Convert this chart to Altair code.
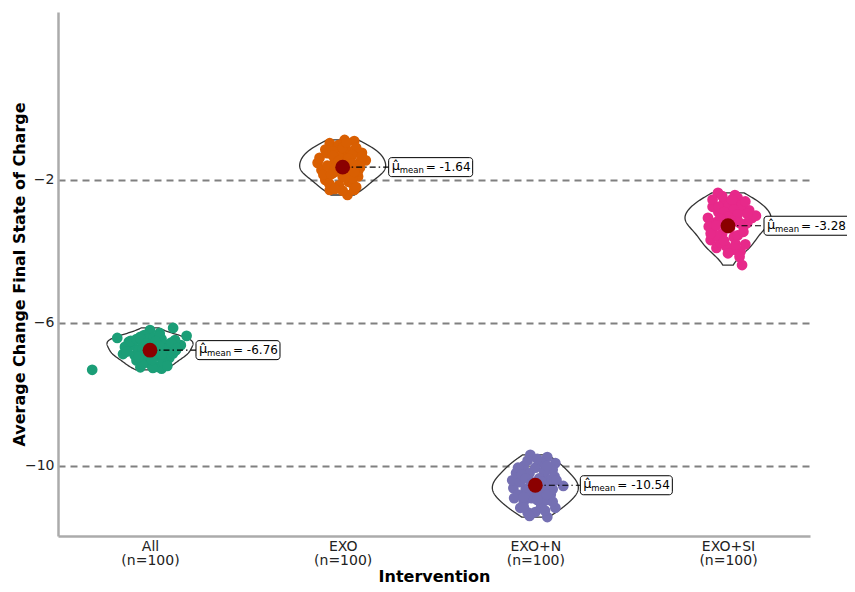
import altair as alt
import numpy as np
import pandas as pd

# ---------------- data ----------------
groups = ["All", "EXO", "EXO+N", "EXO+SI"]
counts = [100, 100, 100, 100]
means = [-6.76, -1.64, -10.54, -3.28]
colors = ["#1B9E77", "#D95F02", "#7570B3", "#E7298A"]

# jitter offsets (in category units) and values of the visible points
all_dx = [-0.30, -0.17, -0.14, 0.12, 0.19, 0.16, 0.05, -0.05, -0.09, 0.08,
          -0.03, 0.04, 0.00, 0.10, -0.08, -0.11, 0.03, 0.13, 0.09, 0.06,
          -0.05, 0.00, -0.03, 0.135, -0.06, -0.13, 0.05, 0.015, 0.07, -0.02,
          -0.10, -0.07, -0.04, -0.01, 0.02, 0.06, 0.11, 0.14, -0.12, -0.02,
          0.03, 0.07, -0.07, 0.12, 0.01, -0.04, 0.09, 0.05]
all_y = [-7.31, -6.42, -6.87, -6.14, -6.36, -6.62, -6.28, -6.39, -6.62, -6.81,
         -7.03, -7.23, -7.15, -6.98, -6.90, -6.53, -6.48, -6.48, -6.62, -7.28,
         -7.24, -6.20, -6.34, -6.76, -6.76, -6.67, -6.95, -7.26, -6.70, -6.60,
         -6.50, -6.45, -6.55, -6.45, -6.40, -6.45, -6.55, -6.70, -6.80, -6.90,
         -6.85, -7.10, -7.05, -6.85, -7.00, -7.15, -7.20, -6.35]

exo_dx = [-0.067, 0.01, 0.06, -0.03, -0.13, -0.11, -0.12, 0.10, 0.12, -0.067,
          0.025, 0.06, 0.00, 0.04, -0.05, 0.08, -0.08, 0.03, -0.02, 0.07,
          -0.09, 0.09, -0.04, 0.02, 0.05, -0.06, 0.00, -0.02, 0.04, 0.07,
          -0.09, -0.05, 0.00, 0.05, 0.09, -0.10, -0.03, 0.03, 0.08, -0.07,
          0.00, 0.05, -0.04, 0.02, 0.10, -0.08]
exo_y = [-0.97, -0.88, -0.91, -1.10, -1.52, -1.72, -1.38, -1.24, -1.45, -2.28,
         -2.42, -2.28, -1.30, -1.60, -1.80, -1.90, -1.25, -2.05, -2.15, -1.10,
         -2.00, -1.65, -1.45, -1.15, -2.10, -1.62, -1.90, -1.02, -1.35, -2.20,
         -1.15, -1.20, -1.10, -1.30, -1.50, -1.85, -1.75, -1.80, -1.75, -2.10,
         -2.30, -1.95, -2.25, -0.95, -1.35, -1.60]

exon_dx = [-0.026, 0.062, 0.104, 0.09, 0.145, -0.114, -0.12, -0.078, 0.00, 0.062,
           0.104, -0.04, 0.03, -0.06, 0.05, -0.09, 0.08, -0.03, 0.02, -0.06,
           0.04, -0.10, 0.07, -0.02, 0.00, -0.05, 0.03, 0.09, -0.08, 0.045,
           -0.09, -0.04, 0.01, 0.06, 0.10, -0.11, -0.06, 0.05, 0.09, -0.02,
           0.02, -0.07, 0.06, -0.03, 0.11, 0.00]
exon_y = [-9.69, -9.75, -9.92, -10.11, -10.56, -10.62, -10.40, -11.17, -11.29, -11.43,
          -11.17, -11.30, -9.90, -10.00, -10.30, -10.80, -10.80, -10.20, -10.70, -11.00,
          -11.00, -10.20, -10.50, -10.45, -10.05, -10.65, -11.15, -11.00, -10.45, -10.15,
          -10.05, -9.85, -9.80, -10.00, -10.30, -10.90, -11.15, -11.25, -10.65, -10.90,
          -10.35, -10.25, -10.95, -11.40, -10.40, -10.75]

exosi_dx = [-0.052, 0.036, 0.05, -0.02, 0.125, 0.145, -0.104, -0.083, -0.09, 0.073,
            0.065, 0.09, -0.06, 0.00, 0.06, -0.05, 0.08, -0.03, 0.03, 0.10,
            -0.07, 0.02, -0.01, 0.05, 0.04, -0.04, 0.11, 0.00, -0.08, 0.03,
            -0.08, -0.03, 0.02, 0.07, 0.10, -0.10, -0.05, 0.05, 0.08, -0.06,
            -0.02, 0.04, 0.06, -0.09, 0.00, 0.09]
exosi_y = [-2.36, -2.42, -2.50, -2.60, -3.06, -3.00, -3.06, -3.40, -3.68, -4.38,
           -4.00, -3.80, -3.90, -2.75, -2.80, -2.90, -3.30, -3.50, -3.60, -3.20,
           -3.20, -3.00, -3.85, -3.55, -2.65, -3.75, -2.85, -3.30, -2.75, -3.95,
           -2.55, -2.45, -2.55, -2.70, -2.95, -3.30, -3.15, -3.15, -3.45, -3.55,
           -3.70, -3.80, -4.15, -3.50, -4.05, -2.60]

# points hidden in the dense middle of each cloud (under the mean marker)
core_dx = [-0.05, 0.03, -0.02, 0.05, 0.00, -0.04, 0.02, 0.06, -0.06, 0.01]
all_core = [-6.43, -6.51, -6.58, -6.65, -6.71, -6.76, -6.82, -6.88, -6.95, -7.03]
exo_core = [-1.32, -1.40, -1.47, -1.54, -1.60, -1.65, -1.71, -1.77, -1.84, -1.92]
exon_core = [-10.35, -10.43, -10.50, -10.57, -10.63, -10.68, -10.74, -10.80, -10.87, -10.95]
exosi_core = [-2.75, -2.83, -2.90, -2.97, -3.03, -3.08, -3.14, -3.20, -3.27, -3.35]

point_dx = [all_dx + core_dx, exo_dx + core_dx, exon_dx + core_dx, exosi_dx + core_dx]
point_y = [all_y + all_core, exo_y + exo_core, exon_y + exon_core, exosi_y + exosi_core]

# ---------------- layout constants ----------------
W, H = 752, 524
XDOM = [0.5225, 4.4256]
YDOM = [-11.96, 2.70]
PX = (XDOM[1] - XDOM[0]) / W      # category units per pixel
PY = (YDOM[1] - YDOM[0]) / H      # value units per pixel
HALF = 43 * PX                    # violin half width
BOX_GAP = [46, 46, 45, 36]        # px from mean to label box
BOX_W = [84, 84, 92, 92]          # label box widths (px)
BOX_H = 19

rows = []
for i, g in enumerate(groups):
    for dx, y in zip(point_dx[i], point_y[i]):
        rows.append({"group": g, "cat": i + 1, "x": i + 1 + dx, "y": y})
pts = pd.DataFrame(rows)

lab = pd.DataFrame({"group": groups, "cat": [i + 1 for i in range(4)],
                    "mean": means,
                    "txt": [f"= {m:.2f}" for m in means]})
lab["bx"] = lab["cat"] + pd.Series(BOX_GAP) * PX
lab["bx2"] = lab["bx"] + pd.Series(BOX_W) * PX
lab["by"] = lab["mean"] + BOX_H / 2 * PY
lab["by2"] = lab["mean"] - BOX_H / 2 * PY

arr = "[" + ",".join(f"'{g}'" for g in groups) + "]"
narr = "[" + ",".join(f"'{n}'" for n in counts) + "]"
label_expr = f"[{arr}[datum.value-1], '(n=' + {narr}[datum.value-1] + ')']"

FONT = "DejaVu Sans"
xaxis = alt.Axis(values=[1, 2, 3, 4], labelExpr=label_expr, title="Intervention",
                 grid=False, ticks=False, domainColor="#ababab", domainWidth=2.5,
                 labelFontSize=14, labelColor="#222222", labelPadding=3,
                 labelLineHeight=14.5, titleFontSize=16, titleFontWeight="bold",
                 titleY=40, titleBaseline="middle",
                 titleColor="#000000", labelFont=FONT, titleFont=FONT)
yaxis = alt.Axis(values=[-2, -6, -10], title="Average Change Final State of Charge",
                 grid=True, gridDash=[7, 5], gridColor="#808080", gridWidth=1.8,
                 ticks=False, domainColor="#ababab", domainWidth=2.5,
                 labelFontSize=14, labelColor="#222222", labelPadding=4,
                 titleFontSize=16, titleFontWeight="bold",
                 titleX=-39, titleY=H / 2, titleBaseline="middle",
                 titleColor="#000000", labelFont=FONT, titleFont=FONT)
xs = alt.Scale(domain=XDOM, nice=False, zero=False)
ys = alt.Scale(domain=YDOM, nice=False, zero=False)
cscale = alt.Scale(domain=groups, range=colors)


def scott_bw(v):
    v = np.asarray(v)
    return 1.06 * v.std(ddof=1) * len(v) ** -0.2


def violin_layer(i):
    lo, hi = min(point_y[i]), max(point_y[i])
    return alt.Chart(pts).transform_filter(
        alt.datum.cat == i + 1
    ).transform_density(
        "y", groupby=["cat"], extent=[lo, hi], steps=150,
        bandwidth=float(scott_bw(point_y[i])), as_=["yv", "dens"]
    ).transform_joinaggregate(
        dmax="max(dens)", groupby=["cat"]
    ).transform_calculate(
        xl=f"datum.cat - datum.dens / datum.dmax * {HALF}",
        xr=f"datum.cat + datum.dens / datum.dmax * {HALF}",
    ).mark_area(orient="horizontal", fillOpacity=0, stroke="#333333",
                strokeWidth=1.3).encode(
        y=alt.Y("yv:Q", scale=ys, axis=yaxis),
        x=alt.X("xl:Q", scale=xs, axis=xaxis),
        x2="xr:Q",
    )


violins = [violin_layer(i) for i in range(len(groups))]

points = alt.Chart(pts).mark_circle(size=115, opacity=1).encode(
    x=alt.X("x:Q", scale=xs, axis=xaxis),
    y=alt.Y("y:Q", scale=ys, axis=yaxis),
    color=alt.Color("group:N", scale=cscale, legend=None),
)

rule = alt.Chart(lab).mark_rule(color="black", strokeWidth=1.2,
                                strokeDash=[6, 3, 1.5, 3]).encode(
    x=alt.X("cat:Q", scale=xs, axis=xaxis), x2="bx:Q",
    y=alt.Y("mean:Q", scale=ys, axis=yaxis),
)

mean_pt = alt.Chart(lab).mark_circle(size=220, color="#8B0000", opacity=1).encode(
    x=alt.X("cat:Q", scale=xs, axis=xaxis),
    y=alt.Y("mean:Q", scale=ys, axis=yaxis),
)

box = alt.Chart(lab).mark_rect(fill="white", stroke="black", strokeWidth=1,
                               cornerRadius=3).encode(
    x=alt.X("bx:Q", scale=xs, axis=xaxis), x2="bx2:Q",
    y=alt.Y("by:Q", scale=ys, axis=yaxis), y2="by2:Q",
)

mu = alt.Chart(lab).mark_text(text="μ̂", font=FONT, fontSize=13, align="left",
                              baseline="middle", dx=3, dy=-1, color="black").encode(
    x=alt.X("bx:Q", scale=xs, axis=xaxis), y=alt.Y("mean:Q", scale=ys, axis=yaxis))
sub = alt.Chart(lab).mark_text(text="mean", font=FONT, fontSize=8.5, align="left",
                               baseline="middle", dx=11, dy=3, color="black").encode(
    x=alt.X("bx:Q", scale=xs, axis=xaxis), y=alt.Y("mean:Q", scale=ys, axis=yaxis))
val = alt.Chart(lab).mark_text(font=FONT, fontSize=12, align="left",
                               baseline="middle", dx=37, dy=0, color="black").encode(
    x=alt.X("bx:Q", scale=xs, axis=xaxis), y=alt.Y("mean:Q", scale=ys, axis=yaxis),
    text="txt:N")

chart = alt.layer(*violins, points, rule, mean_pt, box, mu, sub, val).properties(
    width=W, height=H,
    background="white",
    autosize=alt.AutoSizeParams(type="none"),
    padding={"left": 50, "top": 4, "right": 37, "bottom": 48},
).configure_view(stroke=None, strokeWidth=0)

chart.save("out.html", embed_options={"renderer": "svg", "actions": False})
